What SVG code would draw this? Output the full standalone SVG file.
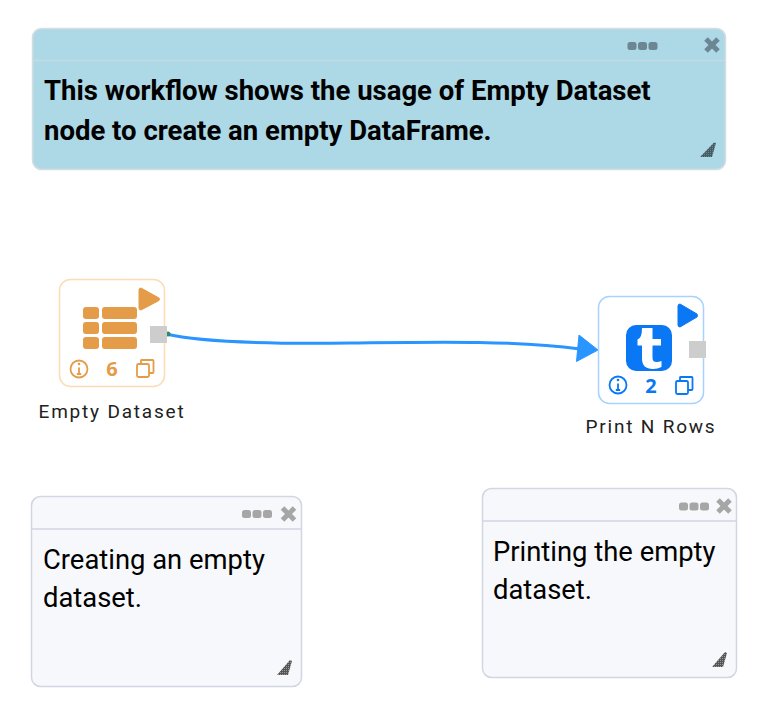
<svg xmlns="http://www.w3.org/2000/svg" width="757" height="711" viewBox="0 0 757 711">
<defs>
<style>
text{font-family:Roboto,"Liberation Sans",sans-serif}
.note{font-size:27.400px;fill:#000}
.nlabel{font-size:19px;letter-spacing:1.800px;fill:#212121}
.stat{font-size:20px;font-weight:700;font-family:"Open Sans",Roboto,sans-serif}
</style>
<pattern id="hatchD" width="2" height="2" patternUnits="userSpaceOnUse"><rect width="2" height="2" fill="#465a63"/><rect width="1" height="1" fill="#6f8993"/></pattern>
<pattern id="hatchL" width="2" height="2" patternUnits="userSpaceOnUse"><rect width="2" height="2" fill="#555"/><rect width="1" height="1" fill="#999"/></pattern>
<g id="xmark"><path d="M-6-6 6 6M6-6-6 6" fill="none" stroke-width="5"/></g>
<g id="dots"><rect x="-15" y="-4" width="9" height="8" rx="2.500"/><rect x="-4.500" y="-4" width="9" height="8" rx="2.500"/><rect x="6" y="-4" width="9" height="8" rx="2.500"/></g>
</defs>
<rect width="757" height="711" fill="#fff"/>

<g id="note-top">
<rect x="32.500" y="28.500" width="693" height="141" rx="9" fill="#add8e6" stroke="#d5dde3" stroke-width="1.500"/>
<path d="M33 60.500H725" stroke="#c4dae2" stroke-width="1.500"/>
<use href="#dots" x="642.500" y="46" fill="#6c8793"/>
<use href="#xmark" x="712" y="45" stroke="#6c8793"/>
<text x="44" y="100" font-size="27.500" font-weight="700" fill="#000">This workflow shows the usage of Empty Dataset</text>
<text x="44" y="140" font-size="27.500" font-weight="700" fill="#000">node to create an empty DataFrame.</text>
<path d="M700 157 714 142.500 716 143 712 157Z" fill="url(#hatchD)"/>
</g>

<g id="connectors">
<path d="M166 334C200 342 270 344 350 343C430 342 510 340 580 349" fill="none" stroke="#2b95ff" stroke-width="3"/>
<path d="M579 335 598 350 576.500 361.500Z" fill="#2b95ff" stroke="#2b95ff" stroke-linejoin="round"/>
<circle cx="168" cy="334" r="2.500" fill="#2d8a6a"/>
</g>

<g id="node-empty-dataset">
<rect x="59.500" y="279.500" width="105" height="107" rx="11" fill="#fff" stroke="#fcdcb4" stroke-width="1.500"/>
<g fill="#e59c48">
<rect x="83" y="307" width="16" height="12" rx="3"/><rect x="102" y="307" width="35" height="12" rx="3"/>
<rect x="83" y="322" width="16" height="12" rx="3"/><rect x="102" y="322" width="35" height="12" rx="3"/>
<rect x="83" y="337" width="16" height="12" rx="3"/><rect x="102" y="337" width="35" height="12" rx="3"/>
<path d="M141 288Q139 288 139 290V308Q139 310 141 310L159 300.500Q160 299 159 298Z" stroke="#e59c48" stroke-linejoin="round"/>
</g>
<rect x="150" y="326" width="17" height="17" fill="#cdcdcd"/>
<g fill="none" stroke="#e59c48" stroke-width="1.800">
<circle cx="79" cy="369" r="8.500"/>
<path d="M79 367.500V374M76.800 374H81.200" />
<rect x="137" y="364" width="12" height="13" rx="1.500"/>
<path d="M141 364V360.500Q141 360 142 360H152.500Q153.500 360 153.500 361V372Q153.500 373 152.500 373H149"/>
</g>
<circle cx="79" cy="364" r="1.300" fill="#e59c48"/>
<text x="112" y="376" text-anchor="middle" class="stat" fill="#e59c48">6</text>
<text x="112" y="417.500" text-anchor="middle" class="nlabel">Empty Dataset</text>
</g>

<g id="node-print-n-rows">
<rect x="598.500" y="296.500" width="105" height="107" rx="11" fill="#fff" stroke="#a8d2ff" stroke-width="1.500"/>
<rect x="626" y="325" width="46" height="46" rx="10" fill="#0a78f5"/>
<path d="M642 328H652.500V339H661V345.500H652.500V358Q652.500 362 656.500 362Q659 362 661.500 361V367Q657.500 369 653 369Q642 369 642 358.500V345.500H637.500V339.500Q642 338.500 642 328Z" fill="#fff"/>
<path d="M680 304Q678 304 678 306V325Q678 327 680 327L697 317Q698 315.500 697 314Z" fill="#0a78f5" stroke="#0a78f5" stroke-linejoin="round"/>
<rect x="689" y="341" width="17" height="17" fill="#cdcdcd"/>
<g fill="none" stroke="#0a78f5" stroke-width="1.800">
<circle cx="618" cy="385" r="8.500"/>
<path d="M618 383.500V390M615.800 390H620.200"/>
<rect x="676" y="381" width="12" height="13" rx="1.500"/>
<path d="M680 381V377.500Q680 377 681 377H691.500Q692.500 377 692.500 378V389Q692.500 390 691.500 390H688"/>
</g>
<circle cx="618" cy="380" r="1.300" fill="#0a78f5"/>
<text x="651" y="393" text-anchor="middle" class="stat" fill="#0a78f5">2</text>
<text x="651" y="432.500" text-anchor="middle" class="nlabel">Print N Rows</text>
</g>

<g id="note-left">
<rect x="31.500" y="496.500" width="270" height="190" rx="9" fill="#f7f8fb" stroke="#d2d6e2" stroke-width="1.500"/>
<path d="M32 529H301" stroke="#d2d6e2" stroke-width="1.500"/>
<use href="#dots" x="257" y="514" fill="#a6a6a6"/>
<use href="#xmark" x="288.500" y="514" stroke="#a6a6a6"/>
<text x="43" y="568.500" class="note">Creating an empty</text>
<text x="43" y="606.500" class="note">dataset.</text>
<path d="M277 675 290 660 292 661 288 675Z" fill="url(#hatchL)"/>
</g>

<g id="note-right">
<rect x="482.500" y="488.500" width="254" height="189" rx="9" fill="#f7f8fb" stroke="#d2d6e2" stroke-width="1.500"/>
<path d="M483 521H736" stroke="#d2d6e2" stroke-width="1.500"/>
<use href="#dots" x="694" y="506.500" fill="#a6a6a6"/>
<use href="#xmark" x="724" y="506" stroke="#a6a6a6"/>
<text x="493" y="560.500" class="note">Printing the empty</text>
<text x="493" y="598.500" class="note">dataset.</text>
<path d="M712 667 725 652 727 653 723 667Z" fill="url(#hatchL)"/>
</g>
</svg>
